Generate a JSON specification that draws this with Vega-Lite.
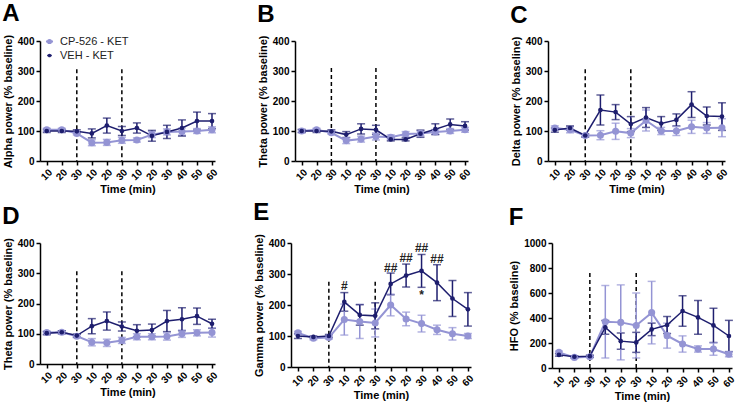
{
  "$schema": "https://vega.github.io/schema/vega-lite/v6.json",
  "background": "white",
  "padding": {"left": 2, "top": 2, "right": 2, "bottom": 2},
  "config": {
    "font": "Liberation Sans",
    "view": {"stroke": null},
    "axis": {"grid": false, "domainColor": "black", "domainWidth": 1.5, "tickColor": "black", "tickWidth": 1.5, "tickSize": 4, "labelColor": "black", "labelFontWeight": "bold", "labelFontSize": 10, "labelFont": "Liberation Sans", "titleFont": "Liberation Sans", "titleFontWeight": "bold", "titleFontSize": 11, "titleColor": "black", "labelOverlap": false},
    "title": {"anchor": "start", "frame": "bounds", "fontSize": 24, "fontWeight": "bold", "color": "black", "offset": 8, "font": "Liberation Sans"}
  },
  "datasets": {
    "d": [
      {"p":"A","g":"CP-526 - KET","i":1,"m":104,"s":5},{"p":"A","g":"CP-526 - KET","i":2,"m":104,"s":5},{"p":"A","g":"CP-526 - KET","i":3,"m":92,"s":5},{"p":"A","g":"CP-526 - KET","i":4,"m":61,"s":10},{"p":"A","g":"CP-526 - KET","i":5,"m":62,"s":10},{"p":"A","g":"CP-526 - KET","i":6,"m":69,"s":10},{"p":"A","g":"CP-526 - KET","i":7,"m":70,"s":7},{"p":"A","g":"CP-526 - KET","i":8,"m":88,"s":10},{"p":"A","g":"CP-526 - KET","i":9,"m":97,"s":10},{"p":"A","g":"CP-526 - KET","i":10,"m":98,"s":12},{"p":"A","g":"CP-526 - KET","i":11,"m":100,"s":8},{"p":"A","g":"CP-526 - KET","i":12,"m":104,"s":10},
      {"p":"A","g":"VEH - KET","i":1,"m":100,"s":5},{"p":"A","g":"VEH - KET","i":2,"m":100,"s":5},{"p":"A","g":"VEH - KET","i":3,"m":99,"s":5},{"p":"A","g":"VEH - KET","i":4,"m":92,"s":15},{"p":"A","g":"VEH - KET","i":5,"m":118,"s":25},{"p":"A","g":"VEH - KET","i":6,"m":100,"s":15},{"p":"A","g":"VEH - KET","i":7,"m":110,"s":17},{"p":"A","g":"VEH - KET","i":8,"m":84,"s":18},{"p":"A","g":"VEH - KET","i":9,"m":97,"s":22},{"p":"A","g":"VEH - KET","i":10,"m":110,"s":27},{"p":"A","g":"VEH - KET","i":11,"m":133,"s":30},{"p":"A","g":"VEH - KET","i":12,"m":133,"s":25},
      {"p":"B","g":"CP-526 - KET","i":1,"m":100,"s":5},{"p":"B","g":"CP-526 - KET","i":2,"m":104,"s":5},{"p":"B","g":"CP-526 - KET","i":3,"m":94,"s":5},{"p":"B","g":"CP-526 - KET","i":4,"m":68,"s":10},{"p":"B","g":"CP-526 - KET","i":5,"m":73,"s":10},{"p":"B","g":"CP-526 - KET","i":6,"m":82,"s":12},{"p":"B","g":"CP-526 - KET","i":7,"m":79,"s":8},{"p":"B","g":"CP-526 - KET","i":8,"m":90,"s":8},{"p":"B","g":"CP-526 - KET","i":9,"m":92,"s":8},{"p":"B","g":"CP-526 - KET","i":10,"m":97,"s":8},{"p":"B","g":"CP-526 - KET","i":11,"m":100,"s":8},{"p":"B","g":"CP-526 - KET","i":12,"m":104,"s":8},
      {"p":"B","g":"VEH - KET","i":1,"m":100,"s":5},{"p":"B","g":"VEH - KET","i":2,"m":100,"s":5},{"p":"B","g":"VEH - KET","i":3,"m":99,"s":5},{"p":"B","g":"VEH - KET","i":4,"m":88,"s":10},{"p":"B","g":"VEH - KET","i":5,"m":107,"s":17},{"p":"B","g":"VEH - KET","i":6,"m":104,"s":15},{"p":"B","g":"VEH - KET","i":7,"m":72,"s":5},{"p":"B","g":"VEH - KET","i":8,"m":72,"s":5},{"p":"B","g":"VEH - KET","i":9,"m":91,"s":12},{"p":"B","g":"VEH - KET","i":10,"m":106,"s":18},{"p":"B","g":"VEH - KET","i":11,"m":122,"s":18},{"p":"B","g":"VEH - KET","i":12,"m":117,"s":14},
      {"p":"C","g":"CP-526 - KET","i":1,"m":110,"s":7},{"p":"C","g":"CP-526 - KET","i":2,"m":104,"s":10},{"p":"C","g":"CP-526 - KET","i":3,"m":85,"s":5},{"p":"C","g":"CP-526 - KET","i":4,"m":86,"s":15},{"p":"C","g":"CP-526 - KET","i":5,"m":99,"s":27},{"p":"C","g":"CP-526 - KET","i":6,"m":93,"s":15},{"p":"C","g":"CP-526 - KET","i":7,"m":135,"s":35},{"p":"C","g":"CP-526 - KET","i":8,"m":100,"s":12},{"p":"C","g":"CP-526 - KET","i":9,"m":100,"s":15},{"p":"C","g":"CP-526 - KET","i":10,"m":114,"s":22},{"p":"C","g":"CP-526 - KET","i":11,"m":110,"s":18},{"p":"C","g":"CP-526 - KET","i":12,"m":111,"s":30},
      {"p":"C","g":"VEH - KET","i":1,"m":103,"s":7},{"p":"C","g":"VEH - KET","i":2,"m":110,"s":7},{"p":"C","g":"VEH - KET","i":3,"m":85,"s":5},{"p":"C","g":"VEH - KET","i":4,"m":170,"s":50},{"p":"C","g":"VEH - KET","i":5,"m":163,"s":25},{"p":"C","g":"VEH - KET","i":6,"m":123,"s":25},{"p":"C","g":"VEH - KET","i":7,"m":145,"s":33},{"p":"C","g":"VEH - KET","i":8,"m":125,"s":23},{"p":"C","g":"VEH - KET","i":9,"m":137,"s":20},{"p":"C","g":"VEH - KET","i":10,"m":188,"s":43},{"p":"C","g":"VEH - KET","i":11,"m":150,"s":30},{"p":"C","g":"VEH - KET","i":12,"m":148,"s":46},
      {"p":"D","g":"CP-526 - KET","i":1,"m":104,"s":5},{"p":"D","g":"CP-526 - KET","i":2,"m":105,"s":5},{"p":"D","g":"CP-526 - KET","i":3,"m":92,"s":5},{"p":"D","g":"CP-526 - KET","i":4,"m":72,"s":12},{"p":"D","g":"CP-526 - KET","i":5,"m":70,"s":12},{"p":"D","g":"CP-526 - KET","i":6,"m":78,"s":10},{"p":"D","g":"CP-526 - KET","i":7,"m":90,"s":10},{"p":"D","g":"CP-526 - KET","i":8,"m":90,"s":10},{"p":"D","g":"CP-526 - KET","i":9,"m":91,"s":12},{"p":"D","g":"CP-526 - KET","i":10,"m":100,"s":12},{"p":"D","g":"CP-526 - KET","i":11,"m":103,"s":10},{"p":"D","g":"CP-526 - KET","i":12,"m":104,"s":15},
      {"p":"D","g":"VEH - KET","i":1,"m":102,"s":5},{"p":"D","g":"VEH - KET","i":2,"m":105,"s":5},{"p":"D","g":"VEH - KET","i":3,"m":94,"s":5},{"p":"D","g":"VEH - KET","i":4,"m":125,"s":25},{"p":"D","g":"VEH - KET","i":5,"m":142,"s":30},{"p":"D","g":"VEH - KET","i":6,"m":124,"s":15},{"p":"D","g":"VEH - KET","i":7,"m":110,"s":20},{"p":"D","g":"VEH - KET","i":8,"m":112,"s":20},{"p":"D","g":"VEH - KET","i":9,"m":142,"s":35},{"p":"D","g":"VEH - KET","i":10,"m":148,"s":38},{"p":"D","g":"VEH - KET","i":11,"m":158,"s":27},{"p":"D","g":"VEH - KET","i":12,"m":133,"s":15},
      {"p":"E","g":"CP-526 - KET","i":1,"m":110,"s":5},{"p":"E","g":"CP-526 - KET","i":2,"m":93,"s":5},{"p":"E","g":"CP-526 - KET","i":3,"m":95,"s":5},{"p":"E","g":"CP-526 - KET","i":4,"m":153,"s":50},{"p":"E","g":"CP-526 - KET","i":5,"m":147,"s":55},{"p":"E","g":"CP-526 - KET","i":6,"m":142,"s":45},{"p":"E","g":"CP-526 - KET","i":7,"m":200,"s":35},{"p":"E","g":"CP-526 - KET","i":8,"m":155,"s":22},{"p":"E","g":"CP-526 - KET","i":9,"m":140,"s":27},{"p":"E","g":"CP-526 - KET","i":10,"m":120,"s":15},{"p":"E","g":"CP-526 - KET","i":11,"m":107,"s":20},{"p":"E","g":"CP-526 - KET","i":12,"m":100,"s":8},
      {"p":"E","g":"VEH - KET","i":1,"m":100,"s":8},{"p":"E","g":"VEH - KET","i":2,"m":97,"s":3},{"p":"E","g":"VEH - KET","i":3,"m":100,"s":5},{"p":"E","g":"VEH - KET","i":4,"m":210,"s":30},{"p":"E","g":"VEH - KET","i":5,"m":168,"s":33},{"p":"E","g":"VEH - KET","i":6,"m":165,"s":42},{"p":"E","g":"VEH - KET","i":7,"m":268,"s":35},{"p":"E","g":"VEH - KET","i":8,"m":295,"s":37},{"p":"E","g":"VEH - KET","i":9,"m":310,"s":53},{"p":"E","g":"VEH - KET","i":10,"m":272,"s":58},{"p":"E","g":"VEH - KET","i":11,"m":221,"s":58},{"p":"E","g":"VEH - KET","i":12,"m":186,"s":54},
      {"p":"F","g":"CP-526 - KET","i":1,"m":125,"s":10},{"p":"F","g":"CP-526 - KET","i":2,"m":85,"s":8},{"p":"F","g":"CP-526 - KET","i":3,"m":90,"s":8},{"p":"F","g":"CP-526 - KET","i":4,"m":370,"s":290},{"p":"F","g":"CP-526 - KET","i":5,"m":365,"s":300},{"p":"F","g":"CP-526 - KET","i":6,"m":340,"s":260},{"p":"F","g":"CP-526 - KET","i":7,"m":443,"s":250},{"p":"F","g":"CP-526 - KET","i":8,"m":259,"s":100},{"p":"F","g":"CP-526 - KET","i":9,"m":192,"s":65},{"p":"F","g":"CP-526 - KET","i":10,"m":152,"s":25},{"p":"F","g":"CP-526 - KET","i":11,"m":152,"s":50},{"p":"F","g":"CP-526 - KET","i":12,"m":110,"s":20},
      {"p":"F","g":"VEH - KET","i":1,"m":105,"s":10},{"p":"F","g":"VEH - KET","i":2,"m":90,"s":8},{"p":"F","g":"VEH - KET","i":3,"m":95,"s":8},{"p":"F","g":"VEH - KET","i":4,"m":325,"s":55},{"p":"F","g":"VEH - KET","i":5,"m":215,"s":65},{"p":"F","g":"VEH - KET","i":6,"m":205,"s":80},{"p":"F","g":"VEH - KET","i":7,"m":309,"s":50},{"p":"F","g":"VEH - KET","i":8,"m":344,"s":68},{"p":"F","g":"VEH - KET","i":9,"m":456,"s":122},{"p":"F","g":"VEH - KET","i":10,"m":405,"s":135},{"p":"F","g":"VEH - KET","i":11,"m":341,"s":137},{"p":"F","g":"VEH - KET","i":12,"m":256,"s":125}
    ],
    "r": [
      {"p":"A","i":3,"t":306},{"p":"A","i":6,"t":306},
      {"p":"B","i":3,"t":310},{"p":"B","i":6,"t":310},
      {"p":"C","i":3,"t":306},{"p":"C","i":6,"t":306},
      {"p":"D","i":3,"t":307},{"p":"D","i":6,"t":307},
      {"p":"E","i":3,"t":275},{"p":"E","i":6,"t":275},
      {"p":"F","i":3,"t":760},{"p":"F","i":6,"t":760}
    ],
    "n": [
      {"i":4,"v":262,"l":"#"},{"i":7,"v":318,"l":"##"},{"i":8,"v":351,"l":"##"},{"i":9,"v":383,"l":"##"},{"i":10,"v":348,"l":"##"},{"i":9,"v":232,"l":"*"}
    ]
  },
  "vconcat": [
    {
      "spacing": 37,
      "resolve": {"scale": {"color": "independent", "size": "independent", "strokeWidth": "independent"}, "legend": {"color": "independent"}},
      "hconcat": [
        {
          "width": 175, "height": 120,
          "title": {"text": "A"},
          "encoding": {
            "x": {"field": "i", "type": "quantitative", "scale": {"domain": [0.55, 12.2], "nice": false, "zero": false}, "axis": {"values": [1,2,3,4,5,6,7,8,9,10,11,12], "labelExpr": "['10','20','30','10','20','30','10','20','30','40','50','60'][datum.value-1]", "labelAngle": -45, "title": "Time (min)", "labelPadding": 2, "titlePadding": 2}},
            "y": {"field": "m", "type": "quantitative", "scale": {"domain": [0, 400], "nice": false}, "axis": {"values": [0,100,200,300,400], "format": "d", "title": "Alpha power (% baseline)"}}
          },
          "layer": [
            {"data": {"name": "r"}, "transform": [{"filter": "datum.p === 'A'"}], "mark": {"type": "rule", "strokeDash": [4, 3], "strokeWidth": 1.5, "color": "black"}, "encoding": {"y": {"field": "t", "type": "quantitative"}, "y2": {"datum": 0}}},
            {"data": {"name": "d"}, "transform": [{"filter": "datum.p === 'A'"}], "mark": {"type": "errorbar", "ticks": {"size": 8}, "thickness": 1.5}, "encoding": {"yError": {"field": "s"}, "color": {"field": "g", "type": "nominal", "scale": {"domain": ["CP-526 - KET", "VEH - KET"], "range": ["#9494D4", "#1E1E6E"]}, "legend": {"title": null, "orient": "none", "legendX": 4, "legendY": -5, "symbolType": "M-1,0H1M0.45,0A0.45,0.45,0,1,1,-0.45,0A0.45,0.45,0,1,1,0.45,0Z", "symbolSize": 225, "symbolStrokeWidth": 1.5, "labelFontSize": 11, "labelFontWeight": "normal", "labelColor": "#222222", "labelOffset": 5, "rowPadding": 2, "clipHeight": 11, "padding": 0, "encode": {"symbols": {"update": {"fill": {"signal": "datum.value === 'VEH - KET' ? '#1E1E6E' : '#9494D4'"}, "stroke": {"signal": "datum.value === 'VEH - KET' ? '#1E1E6E' : '#9494D4'"}, "opacity": {"value": 1}}}}}}}},
            {"data": {"name": "d"}, "transform": [{"filter": "datum.p === 'A'"}], "mark": {"type": "line"}, "encoding": {"color": {"field": "g", "type": "nominal", "scale": {"domain": ["CP-526 - KET", "VEH - KET"], "range": ["#9494D4", "#1E1E6E"]}}, "strokeWidth": {"field": "g", "type": "nominal", "scale": {"domain": ["CP-526 - KET", "VEH - KET"], "range": [2, 1.5]}, "legend": null}}},
            {"data": {"name": "d"}, "transform": [{"filter": "datum.p === 'A'"}], "mark": {"type": "point", "filled": true, "opacity": 1}, "encoding": {"color": {"field": "g", "type": "nominal", "scale": {"domain": ["CP-526 - KET", "VEH - KET"], "range": ["#9494D4", "#1E1E6E"]}}, "size": {"field": "g", "type": "nominal", "scale": {"domain": ["CP-526 - KET", "VEH - KET"], "range": [50, 22]}, "legend": null}}}
          ]
        },
        {
          "width": 173, "height": 120,
          "title": {"text": "B"},
          "encoding": {
            "x": {"field": "i", "type": "quantitative", "scale": {"domain": [0.55, 12.2], "nice": false, "zero": false}, "axis": {"values": [1,2,3,4,5,6,7,8,9,10,11,12], "labelExpr": "['10','20','30','10','20','30','10','20','30','40','50','60'][datum.value-1]", "labelAngle": -45, "title": "Time (min)", "labelPadding": 2, "titlePadding": 2}},
            "y": {"field": "m", "type": "quantitative", "scale": {"domain": [0, 400], "nice": false}, "axis": {"values": [0,100,200,300,400], "format": "d", "title": "Theta power (% baseline)"}}
          },
          "layer": [
            {"data": {"name": "r"}, "transform": [{"filter": "datum.p === 'B'"}], "mark": {"type": "rule", "strokeDash": [4, 3], "strokeWidth": 1.5, "color": "black"}, "encoding": {"y": {"field": "t", "type": "quantitative"}, "y2": {"datum": 0}}},
            {"data": {"name": "d"}, "transform": [{"filter": "datum.p === 'B'"}], "mark": {"type": "errorbar", "ticks": {"size": 8}, "thickness": 1.5}, "encoding": {"yError": {"field": "s"}, "color": {"field": "g", "type": "nominal", "scale": {"domain": ["CP-526 - KET", "VEH - KET"], "range": ["#9494D4", "#1E1E6E"]}, "legend": null}}},
            {"data": {"name": "d"}, "transform": [{"filter": "datum.p === 'B'"}], "mark": {"type": "line"}, "encoding": {"color": {"field": "g", "type": "nominal", "scale": {"domain": ["CP-526 - KET", "VEH - KET"], "range": ["#9494D4", "#1E1E6E"]}, "legend": null}, "strokeWidth": {"field": "g", "type": "nominal", "scale": {"domain": ["CP-526 - KET", "VEH - KET"], "range": [2, 1.5]}, "legend": null}}},
            {"data": {"name": "d"}, "transform": [{"filter": "datum.p === 'B'"}], "mark": {"type": "point", "filled": true, "opacity": 1}, "encoding": {"color": {"field": "g", "type": "nominal", "scale": {"domain": ["CP-526 - KET", "VEH - KET"], "range": ["#9494D4", "#1E1E6E"]}, "legend": null}, "size": {"field": "g", "type": "nominal", "scale": {"domain": ["CP-526 - KET", "VEH - KET"], "range": [50, 22]}, "legend": null}}}
          ]
        },
        {
          "width": 177, "height": 120,
          "title": {"text": "C"},
          "encoding": {
            "x": {"field": "i", "type": "quantitative", "scale": {"domain": [0.55, 12.2], "nice": false, "zero": false}, "axis": {"values": [1,2,3,4,5,6,7,8,9,10,11,12], "labelExpr": "['10','20','30','10','20','30','10','20','30','40','50','60'][datum.value-1]", "labelAngle": -45, "title": "Time (min)", "labelPadding": 2, "titlePadding": 2}},
            "y": {"field": "m", "type": "quantitative", "scale": {"domain": [0, 400], "nice": false}, "axis": {"values": [0,100,200,300,400], "format": "d", "title": "Delta power (% baseline)"}}
          },
          "layer": [
            {"data": {"name": "r"}, "transform": [{"filter": "datum.p === 'C'"}], "mark": {"type": "rule", "strokeDash": [4, 3], "strokeWidth": 1.5, "color": "black"}, "encoding": {"y": {"field": "t", "type": "quantitative"}, "y2": {"datum": 0}}},
            {"data": {"name": "d"}, "transform": [{"filter": "datum.p === 'C'"}], "mark": {"type": "errorbar", "ticks": {"size": 8}, "thickness": 1.5}, "encoding": {"yError": {"field": "s"}, "color": {"field": "g", "type": "nominal", "scale": {"domain": ["CP-526 - KET", "VEH - KET"], "range": ["#9494D4", "#1E1E6E"]}, "legend": null}}},
            {"data": {"name": "d"}, "transform": [{"filter": "datum.p === 'C'"}], "mark": {"type": "line"}, "encoding": {"color": {"field": "g", "type": "nominal", "scale": {"domain": ["CP-526 - KET", "VEH - KET"], "range": ["#9494D4", "#1E1E6E"]}, "legend": null}, "strokeWidth": {"field": "g", "type": "nominal", "scale": {"domain": ["CP-526 - KET", "VEH - KET"], "range": [2, 1.5]}, "legend": null}}},
            {"data": {"name": "d"}, "transform": [{"filter": "datum.p === 'C'"}], "mark": {"type": "point", "filled": true, "opacity": 1}, "encoding": {"color": {"field": "g", "type": "nominal", "scale": {"domain": ["CP-526 - KET", "VEH - KET"], "range": ["#9494D4", "#1E1E6E"]}, "legend": null}, "size": {"field": "g", "type": "nominal", "scale": {"domain": ["CP-526 - KET", "VEH - KET"], "range": [50, 22]}, "legend": null}}}
          ]
        }
      ]
    },
    {
      "spacing": 33,
      "resolve": {"scale": {"color": "independent", "size": "independent", "strokeWidth": "independent"}, "legend": {"color": "independent"}},
      "hconcat": [
        {
          "width": 175, "height": 121,
          "title": {"text": "D"},
          "encoding": {
            "x": {"field": "i", "type": "quantitative", "scale": {"domain": [0.55, 12.2], "nice": false, "zero": false}, "axis": {"values": [1,2,3,4,5,6,7,8,9,10,11,12], "labelExpr": "['10','20','30','10','20','30','10','20','30','40','50','60'][datum.value-1]", "labelAngle": -45, "title": "Time (min)", "labelPadding": 2, "titlePadding": 2}},
            "y": {"field": "m", "type": "quantitative", "scale": {"domain": [0, 400], "nice": false}, "axis": {"values": [0,100,200,300,400], "format": "d", "title": "Theta power (% baseline)"}}
          },
          "layer": [
            {"data": {"name": "r"}, "transform": [{"filter": "datum.p === 'D'"}], "mark": {"type": "rule", "strokeDash": [4, 3], "strokeWidth": 1.5, "color": "black"}, "encoding": {"y": {"field": "t", "type": "quantitative"}, "y2": {"datum": 0}}},
            {"data": {"name": "d"}, "transform": [{"filter": "datum.p === 'D'"}], "mark": {"type": "errorbar", "ticks": {"size": 8}, "thickness": 1.5}, "encoding": {"yError": {"field": "s"}, "color": {"field": "g", "type": "nominal", "scale": {"domain": ["CP-526 - KET", "VEH - KET"], "range": ["#9494D4", "#1E1E6E"]}, "legend": null}}},
            {"data": {"name": "d"}, "transform": [{"filter": "datum.p === 'D'"}], "mark": {"type": "line"}, "encoding": {"color": {"field": "g", "type": "nominal", "scale": {"domain": ["CP-526 - KET", "VEH - KET"], "range": ["#9494D4", "#1E1E6E"]}, "legend": null}, "strokeWidth": {"field": "g", "type": "nominal", "scale": {"domain": ["CP-526 - KET", "VEH - KET"], "range": [2, 1.5]}, "legend": null}}},
            {"data": {"name": "d"}, "transform": [{"filter": "datum.p === 'D'"}], "mark": {"type": "point", "filled": true, "opacity": 1}, "encoding": {"color": {"field": "g", "type": "nominal", "scale": {"domain": ["CP-526 - KET", "VEH - KET"], "range": ["#9494D4", "#1E1E6E"]}, "legend": null}, "size": {"field": "g", "type": "nominal", "scale": {"domain": ["CP-526 - KET", "VEH - KET"], "range": [50, 22]}, "legend": null}}}
          ]
        },
        {
          "width": 180, "height": 124,
          "title": {"text": "E"},
          "encoding": {
            "x": {"field": "i", "type": "quantitative", "scale": {"domain": [0.55, 12.2], "nice": false, "zero": false}, "axis": {"values": [1,2,3,4,5,6,7,8,9,10,11,12], "labelExpr": "['10','20','30','10','20','30','10','20','30','40','50','60'][datum.value-1]", "labelAngle": -45, "title": "Time (min)", "labelPadding": 2, "titlePadding": 2}},
            "y": {"field": "m", "type": "quantitative", "scale": {"domain": [0, 400], "nice": false}, "axis": {"values": [0,100,200,300,400], "format": "d", "title": "Gamma power (% baseline)"}}
          },
          "layer": [
            {"data": {"name": "r"}, "transform": [{"filter": "datum.p === 'E'"}], "mark": {"type": "rule", "strokeDash": [4, 3], "strokeWidth": 1.5, "color": "black"}, "encoding": {"y": {"field": "t", "type": "quantitative"}, "y2": {"datum": 0}}},
            {"data": {"name": "d"}, "transform": [{"filter": "datum.p === 'E'"}], "mark": {"type": "errorbar", "ticks": {"size": 8}, "thickness": 1.5}, "encoding": {"yError": {"field": "s"}, "color": {"field": "g", "type": "nominal", "scale": {"domain": ["CP-526 - KET", "VEH - KET"], "range": ["#9494D4", "#1E1E6E"]}, "legend": null}}},
            {"data": {"name": "d"}, "transform": [{"filter": "datum.p === 'E'"}], "mark": {"type": "line"}, "encoding": {"color": {"field": "g", "type": "nominal", "scale": {"domain": ["CP-526 - KET", "VEH - KET"], "range": ["#9494D4", "#1E1E6E"]}, "legend": null}, "strokeWidth": {"field": "g", "type": "nominal", "scale": {"domain": ["CP-526 - KET", "VEH - KET"], "range": [2, 1.5]}, "legend": null}}},
            {"data": {"name": "d"}, "transform": [{"filter": "datum.p === 'E'"}], "mark": {"type": "point", "filled": true, "opacity": 1}, "encoding": {"color": {"field": "g", "type": "nominal", "scale": {"domain": ["CP-526 - KET", "VEH - KET"], "range": ["#9494D4", "#1E1E6E"]}, "legend": null}, "size": {"field": "g", "type": "nominal", "scale": {"domain": ["CP-526 - KET", "VEH - KET"], "range": [50, 22]}, "legend": null}}},
            {"data": {"name": "n"}, "mark": {"type": "text", "fontSize": 12, "fontWeight": "bold", "color": "#222222", "baseline": "middle", "align": "center"}, "encoding": {"y": {"field": "v", "type": "quantitative"}, "text": {"field": "l"}}}
          ]
        },
        {
          "width": 180, "height": 125,
          "title": {"text": "F"},
          "encoding": {
            "x": {"field": "i", "type": "quantitative", "scale": {"domain": [0.55, 12.2], "nice": false, "zero": false}, "axis": {"values": [1,2,3,4,5,6,7,8,9,10,11,12], "labelExpr": "['10','20','30','10','20','30','10','20','30','40','50','60'][datum.value-1]", "labelAngle": -45, "title": "Time (min)", "labelPadding": 2, "titlePadding": 2}},
            "y": {"field": "m", "type": "quantitative", "scale": {"domain": [0, 1000], "nice": false}, "axis": {"values": [0,200,400,600,800,1000], "format": "d", "title": "HFO (% baseline)"}}
          },
          "layer": [
            {"data": {"name": "r"}, "transform": [{"filter": "datum.p === 'F'"}], "mark": {"type": "rule", "strokeDash": [4, 3], "strokeWidth": 1.5, "color": "black"}, "encoding": {"y": {"field": "t", "type": "quantitative"}, "y2": {"datum": 0}}},
            {"data": {"name": "d"}, "transform": [{"filter": "datum.p === 'F'"}], "mark": {"type": "errorbar", "ticks": {"size": 8}, "thickness": 1.5}, "encoding": {"yError": {"field": "s"}, "color": {"field": "g", "type": "nominal", "scale": {"domain": ["CP-526 - KET", "VEH - KET"], "range": ["#9494D4", "#1E1E6E"]}, "legend": null}}},
            {"data": {"name": "d"}, "transform": [{"filter": "datum.p === 'F'"}], "mark": {"type": "line"}, "encoding": {"color": {"field": "g", "type": "nominal", "scale": {"domain": ["CP-526 - KET", "VEH - KET"], "range": ["#9494D4", "#1E1E6E"]}, "legend": null}, "strokeWidth": {"field": "g", "type": "nominal", "scale": {"domain": ["CP-526 - KET", "VEH - KET"], "range": [2, 1.5]}, "legend": null}}},
            {"data": {"name": "d"}, "transform": [{"filter": "datum.p === 'F'"}], "mark": {"type": "point", "filled": true, "opacity": 1}, "encoding": {"color": {"field": "g", "type": "nominal", "scale": {"domain": ["CP-526 - KET", "VEH - KET"], "range": ["#9494D4", "#1E1E6E"]}, "legend": null}, "size": {"field": "g", "type": "nominal", "scale": {"domain": ["CP-526 - KET", "VEH - KET"], "range": [50, 22]}, "legend": null}}}
          ]
        }
      ]
    }
  ],
  "spacing": 6
}
